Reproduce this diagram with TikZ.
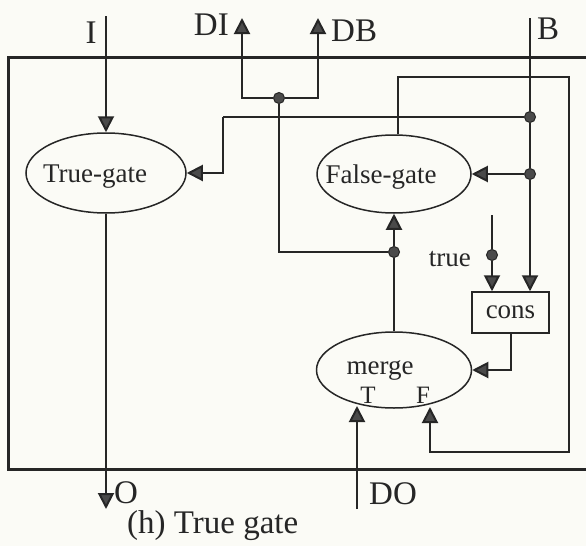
\documentclass[tikz,border=0pt]{standalone}
\usepackage{fontspec}
\setmainfont{Liberation Serif}
\usetikzlibrary{arrows.meta,shapes.geometric,calc}
\definecolor{ink}{HTML}{262626}
\definecolor{tipfill}{HTML}{4A4A4A}
\definecolor{paper}{HTML}{FBFBF6}
\pgfdeclarelayer{bg}
\pgfsetlayers{bg,main}
\begin{document}
\begin{tikzpicture}[x=1pt,y=-1pt,
  wire/.style={draw=ink,line width=2pt},
  arr/.style={wire,-{Triangle[length=16pt,width=16pt,fill=tipfill]}},
  gate/.style={ellipse,draw=ink,line width=1.5pt,inner sep=0pt},
  dot/.style={circle,draw=ink,fill=tipfill,line width=1pt,inner sep=0pt,minimum size=11pt},
  lbl/.style={text=ink,font=\fontsize{33}{36}\selectfont,inner sep=0pt},
  itxt/.style={text=ink,font=\fontsize{27}{30}\selectfont,inner sep=0pt},
  frame/.style={draw=ink,line width=3pt}
]
\begin{pgfonlayer}{bg}
\fill[paper] (0,0) rectangle (586,546);
\end{pgfonlayer}
\useasboundingbox (0,0) rectangle (586,546);

% gates
\node[gate,minimum width=160pt,minimum height=80pt] (tg) at (106,173) {};
\node[gate,minimum width=154pt,minimum height=78pt] (fg) at (394,174) {};
\node[gate,minimum width=155pt,minimum height=76pt] (mg) at (394,370) {};
\node[draw=ink,line width=1.5pt,minimum width=77pt,minimum height=41pt,inner sep=0pt,text=ink,font=\fontsize{27}{30}\selectfont] (cons) at (510.5,312.5) {cons};

% gate texts
\node[itxt,anchor=base] (tgt) at (95,182) {True-gate};
\node[itxt,anchor=base] (fgt) at (381,183) {False-gate};
\node[itxt,anchor=base] (mgt) at (380,374) {merge};
\node[itxt,anchor=base,font=\fontsize{25}{28}\selectfont] (mT) at (368,403) {T};
\node[itxt,anchor=base,font=\fontsize{25}{28}\selectfont] (mF) at (423,403) {F};
\node[itxt,anchor=base east] (truet) at (471,266) {true};

% outer labels
\node[lbl,anchor=base] (Ilbl) at (91,43) {I};
\node[lbl,anchor=base east] (DIlbl) at (229,35) {DI};
\node[lbl,anchor=base west] (DBlbl) at (331,41) {DB};
\node[lbl,anchor=base west] (Blbl) at (537,39) {B};
\node[lbl,anchor=base west] (Olbl) at (114,503) {O};
\node[lbl,anchor=base west] (DOlbl) at (369,504) {DO};
\node[lbl,anchor=base west] (cap) at (127,533) {(h) True gate};

% junction dots
\node[dot] (d1) at (279,98) {};
\node[dot] (d3) at (394,252) {};
\node[dot] (d4) at (530,117) {};
\node[dot] (d5) at (530,174) {};
\node[dot] (d6) at (492,255) {};

% free ends
\coordinate (Itop) at (106,16);
\coordinate (DIend) at (242,18);
\coordinate (DBend) at (318,18);
\coordinate (Btop) at (530,18);
\coordinate (c1) at (223,117);
\coordinate (l1) at (569,77);
\coordinate (l2) at (569,452);
\coordinate (Fin) at (430,407);
\coordinate (Tin) at (357,406);
\coordinate (DObot) at (357,509);
\coordinate (Obot) at (106,509);
\coordinate (trtop) at (492,215);

\begin{pgfonlayer}{bg}
% frame
\draw[frame] (586,57) -- (8.5,57) -- (8.5,469.5) -- (586,469.5);
% connectors
\draw[arr] (Itop) -- (tg.north);
\draw[arr] (d1) -| (DIend);
\draw[arr] (d1) -| (DBend);
\draw[wire] (d1) |- (d3);
\draw[arr] (d3) -- (fg.south);
\draw[wire] (mg.north) -- (d3);
\draw[wire] (Btop) -- (d4);
\draw[wire] (d4) -- (d5);
\draw[arr] (d5) -- (d5 |- cons.north);
\draw[wire] (d4) -- (c1);
\draw[arr] (c1) |- (tg.east);
\draw[arr] (d5) -- (fg.east);
\draw[arr] ($(fg.north)+(4,0)$) |- (l1) -- (l2) -| (Fin);
\draw[arr] (DObot) -- (Tin);
\draw[arr] (tg.south) -- (Obot);
\draw[wire] (trtop) -- (d6);
\draw[arr] (d6) -- (d6 |- cons.north);
\draw[arr] (cons.south) |- (mg.east);
\end{pgfonlayer}
\end{tikzpicture}
\end{document}
